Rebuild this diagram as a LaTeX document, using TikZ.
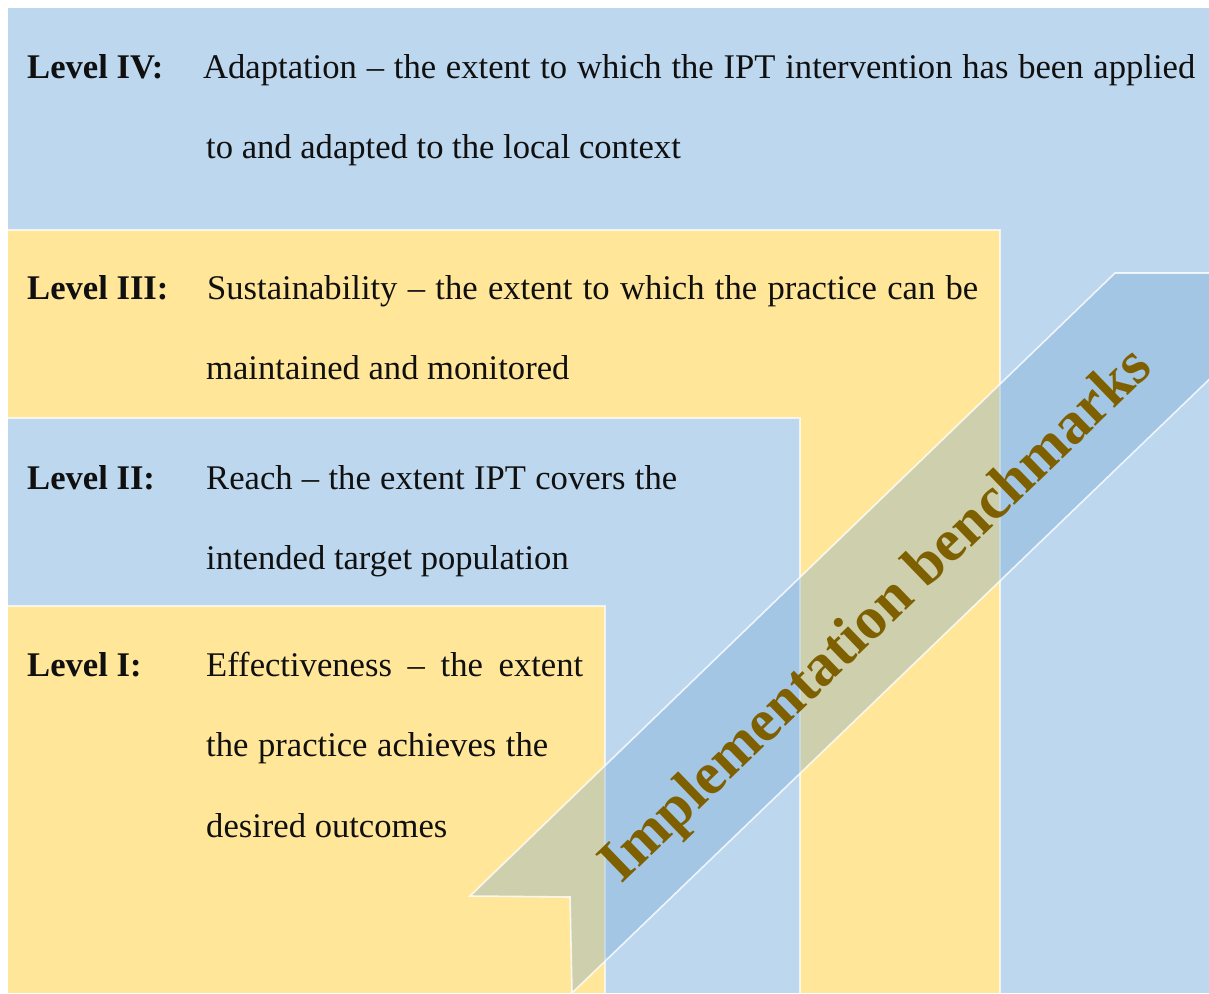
\documentclass[tikz,border=0pt]{standalone}
\usepackage{fontspec}
\setmainfont{Liberation Serif}
\definecolor{tierblue}{HTML}{BDD7EE}
\definecolor{tieryellow}{HTML}{FFE699}
\definecolor{bandblue}{RGB}{116,167,212}
\definecolor{bandtext}{HTML}{7F6000}
\definecolor{ink}{HTML}{101010}
\begin{document}
\begin{tikzpicture}[x=1pt,y=-1pt,
  tier/.style={draw=white, line width=1.2pt, draw opacity=0.7},
  lvl/.style={anchor=base west, inner sep=0pt, text=ink,
    font=\fontsize{34.6}{40}\selectfont\bfseries},
  desc/.style={anchor=base west, inner sep=0pt, text=ink,
    font=\fontsize{34.6}{40}\selectfont},
  bandfill/.style={fill=bandblue, fill opacity=0.35},
  bandedge/.style={draw=white, line width=1.6pt, draw opacity=0.8, line join=miter},
  bandlabel/.style={rotate=44, inner sep=0pt, text=bandtext,
    font=\fontsize{60}{60}\selectfont\bfseries}
]
\fill[white] (0,0) rectangle (1209,993);
\useasboundingbox (0,0) rectangle (1209,993);

% nested tiers, outermost first
\fill[tierblue]   (8,8)   rectangle (1209,993);
\fill[tieryellow] (8,230) rectangle (1000,993);
\draw[tier] (8,230) -- (1000,230) -- (1000,993);
\fill[tierblue]   (8,418) rectangle (800,993);
\draw[tier] (8,418) -- (800,418) -- (800,993);
\fill[tieryellow] (8,606) rectangle (605,993);
\draw[tier] (8,606) -- (605,606) -- (605,993);

% diagonal band
\begin{scope}
  \clip (8,8) rectangle (1209,993);
  \coordinate (tip) at (470,896);
  \coordinate (bendtop) at (1115,273);
  \coordinate (topright) at (1220,273);
  \coordinate (lowright) at (1220,369);
  \coordinate (lowfoot) at (572,993);
  \coordinate (notch) at (570,897);
  \fill[bandfill] (tip) -- (bendtop) -- (topright) -- (lowright) -- (lowfoot) -- (notch) -- cycle;
  \draw[bandedge] (tip) -- (bendtop) -- (topright) -- (lowright) -- (lowfoot) -- (notch) -- cycle;
\end{scope}
\node[bandlabel] (bench) at (878,617) {Implementation benchmarks};

% level texts
\node[lvl]  (l4)  at (27,78)   {Level IV:};
\node[desc] (l4a) at (203,78)  {\makebox[992pt][s]{Adaptation – the extent to which the IPT intervention has been applied}};
\node[desc] (l4b) at (206,158) {to and adapted to the local context};

\node[lvl]  (l3)  at (27,299)  {Level III:};
\node[desc] (l3a) at (207,299) {\makebox[771pt][s]{Sustainability – the extent to which the practice can be}};
\node[desc] (l3b) at (206,379) {maintained and monitored};

\node[lvl]  (l2)  at (27,489)  {Level II:};
\node[desc] (l2a) at (206,489) {\makebox[471pt][s]{Reach – the extent IPT covers the}};
\node[desc] (l2b) at (206,569) {intended target population};

\node[lvl]  (l1)  at (27,676)  {Level I:};
\node[desc] (l1a) at (206,676) {\makebox[377pt][s]{Effectiveness – the extent}};
\node[desc] (l1b) at (206,756) {\makebox[342pt][s]{the practice achieves the}};
\node[desc] (l1c) at (206,837) {desired outcomes};
\end{tikzpicture}
\end{document}
